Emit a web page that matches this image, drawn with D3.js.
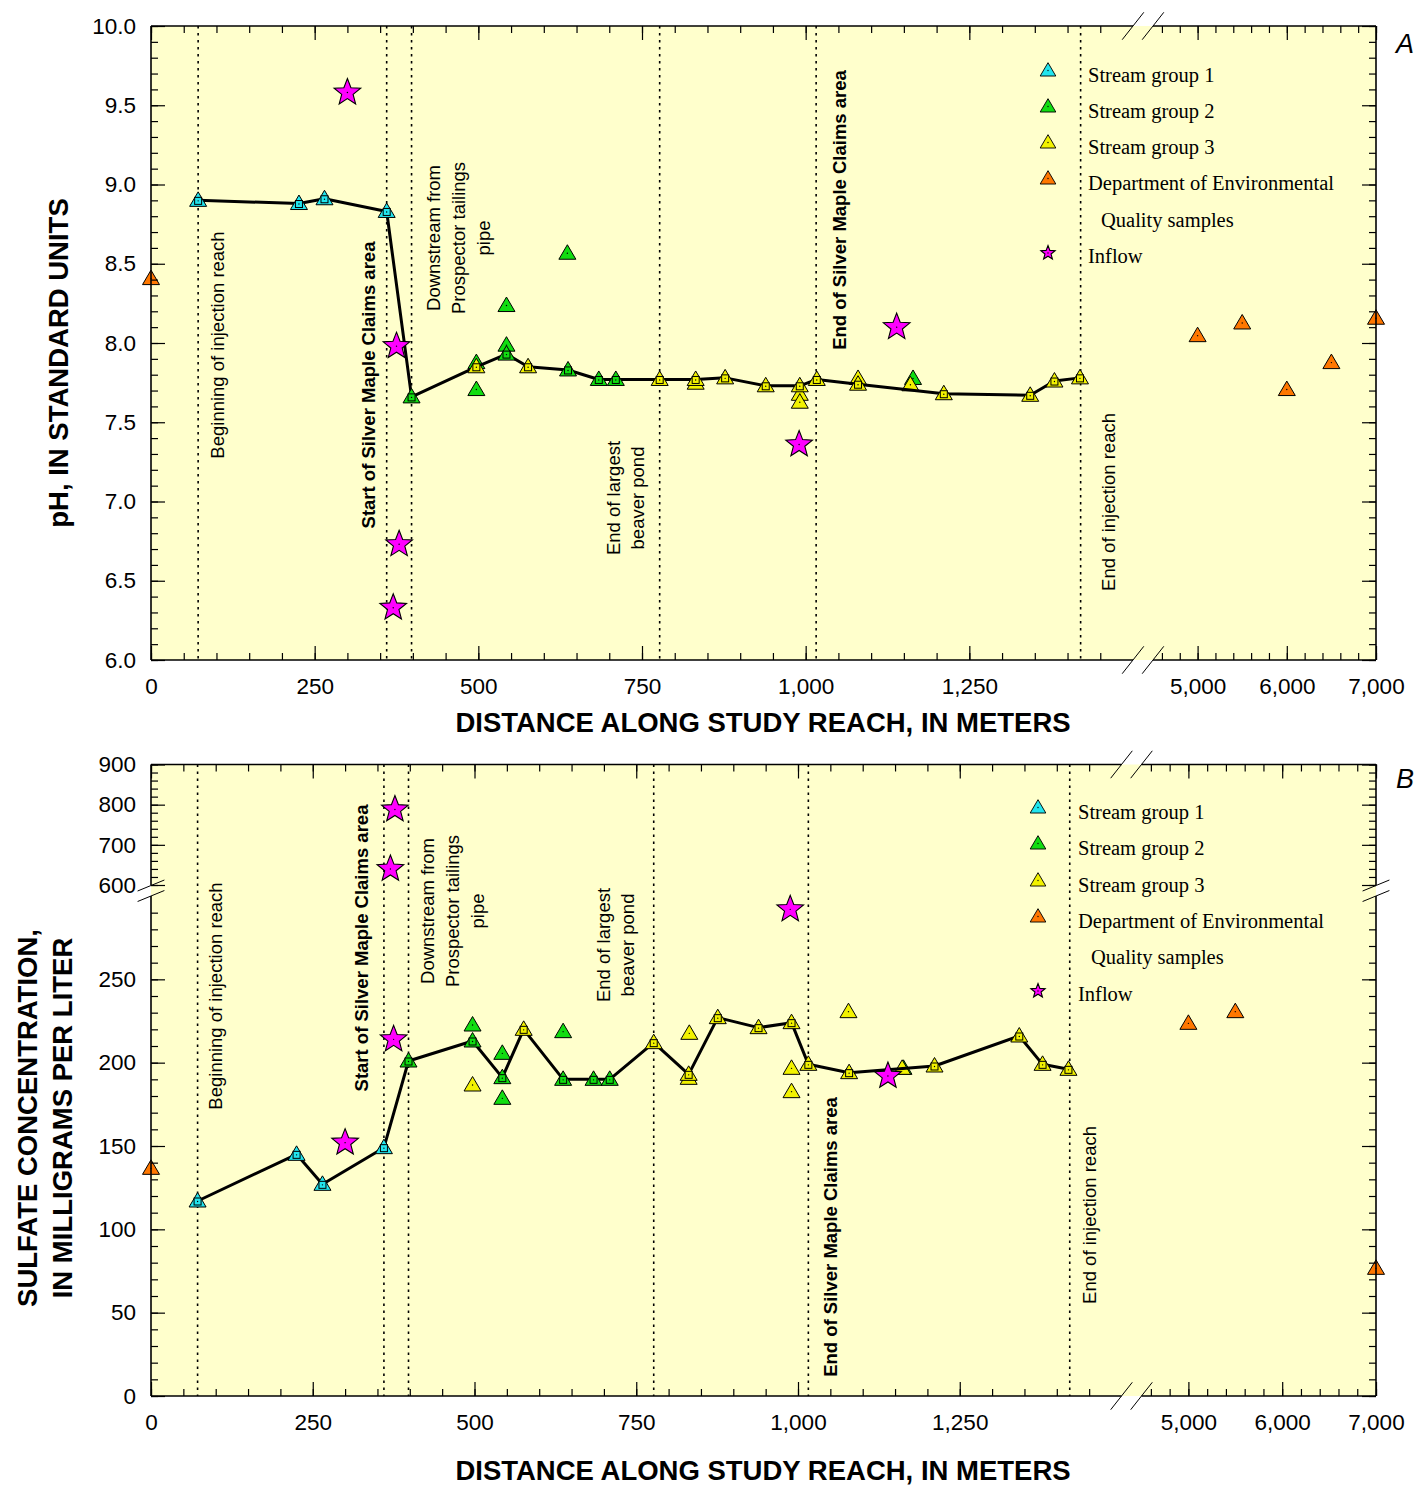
<!DOCTYPE html>
<html>
<head>
<meta charset="utf-8">
<script src="https://cdn.jsdelivr.net/npm/d3@7"></script>
<style>
  body { margin: 0; background: #fff; }
  svg text { font-family: "Liberation Sans", Arial, Helvetica, sans-serif; fill: #000; }
  svg text.legend-label { font-family: "Liberation Serif", "Times New Roman", serif; }
</style>
</head>
<body>
<svg id="fig" width="1419" height="1485"></svg>
<script>
// ---------------- data ----------------
// distances in meters along the study reach

// stream-site tick labels
const xTicksNear = [0, 250, 500, 750, 1000, 1250];
const xTicksFar = [5000, 6000, 7000];
const phTicks = [6.0, 6.5, 7.0, 7.5, 8.0, 8.5, 9.0, 9.5, 10.0];
const so4TicksLow = [0, 50, 100, 150, 200, 250];
const so4TicksHigh = [600, 700, 800, 900];

// reference locations along the reach
const siteDist = [72, 360, 398, 777, 1016, 1420];
const siteText = [
  ["Beginning of injection reach"],
  ["Start of Silver Maple Claims area"],
  ["Downstream from", "Prospector tailings", "pipe"],
  ["End of largest", "beaver pond"],
  ["End of Silver Maple Claims area"],
  ["End of injection reach"]
];
const siteBold = [false, true, false, false, true, false];

// legend
const legendNames = ["Stream group 1", "Stream group 2", "Stream group 3",
  "Department of Environmental", "Quality samples", "Inflow"];

// pH: main-stem profile [distance, pH, stream group]
const phProfile = [
  [72, 8.90, 1], [226, 8.88, 1], [265, 8.91, 1], [360, 8.83, 1],
  [398, 7.66, 2], [497, 7.85, 3], [543, 7.93, 2], [576, 7.85, 3],
  [637, 7.83, 2], [684, 7.77, 2], [710, 7.77, 2], [777, 7.77, 3],
  [832, 7.77, 3], [877, 7.78, 3], [939, 7.73, 3], [991, 7.73, 3],
  [1017, 7.77, 3], [1080, 7.74, 3], [1211, 7.68, 3], [1343, 7.67, 3],
  [1380, 7.76, 3], [1419, 7.78, 3]
];
// pH: other stream samples [distance, pH, stream group]
const phOther = [
  [497, 7.87, 2], [497, 7.70, 2], [543, 7.98, 2], [543, 8.23, 2],
  [636, 8.56, 2], [1164, 7.77, 2],
  [832, 7.74, 3], [991, 7.67, 3], [991, 7.62, 3], [1080, 7.77, 3], [1160, 7.73, 3]
];
// pH: Department of Environmental Quality samples
const phDEQ = [[0, 8.40], [5000, 8.04], [5500, 8.12], [6000, 7.70], [6500, 7.87], [7000, 8.15]];
// pH: inflows
const phInflow = [[300, 9.58], [375, 7.98], [379, 6.73], [370, 6.33], [990, 7.36], [1139, 8.10]];

// sulfate (mg/L): main-stem profile
const so4Profile = [
  [72, 117, 1], [225, 145, 1], [265, 127, 1], [360, 149, 1],
  [398, 201, 2], [497, 213, 2], [543, 191, 2], [576, 220, 3],
  [637, 190, 2], [684, 190, 2], [709, 190, 2], [777, 212, 3],
  [831, 193, 3], [876, 227, 3], [939, 221, 3], [990, 224, 3],
  [1016, 199, 3], [1079, 194, 3], [1211, 198, 3], [1342, 216, 3],
  [1378, 199, 3], [1418, 196, 3]
];
const so4Other = [
  [497, 222, 2], [543, 205, 2], [543, 178, 2], [637, 218, 2], [1163, 196, 2],
  [497, 186, 3], [831, 190, 3], [832, 217, 3], [990, 196, 3], [990, 182, 3],
  [1078, 230, 3], [1161, 196, 3]
];
const so4DEQ = [[0, 136], [5000, 223], [5500, 230], [7000, 76]];
const so4Inflow = [[300, 152], [375, 214], [377, 788], [370, 640], [988, 292], [1139, 192]];

// ---------------- styling ----------------
const groupColor = { 1: "#22e5ee", 2: "#11dd11", 3: "#f2f200" };
const deqColor = "#ff7700";
const inflowColor = "#ff00ff";
const plotBg = "#ffffcc";
const tickFont = 22.5;

const svg = d3.select("#fig");

const triPath = "M0,-8.5L8.5,6L-8.5,6Z";
function starPath(R, r) {
  const pts = [];
  for (let i = 0; i < 10; i++) {
    const a = -Math.PI / 2 + i * Math.PI / 5;
    const rad = i % 2 ? r : R;
    pts.push([rad * Math.cos(a), rad * Math.sin(a)]);
  }
  return "M" + pts.map(p => p[0].toFixed(2) + "," + p[1].toFixed(2)).join("L") + "Z";
}

function drawTriangles(g, data, xf, yf, colorOf, withSquare, scale = 1) {
  const m = g.append("g").selectAll("g").data(data).join("g")
    .attr("transform", d => `translate(${xf(d)},${yf(d)}) scale(${scale})`);
  m.append("path").attr("d", triPath).attr("fill", colorOf)
    .attr("stroke", "#000").attr("stroke-width", 1).attr("stroke-linejoin", "miter");
  if (withSquare) {
    m.append("rect").attr("x", -3.5).attr("y", -3).attr("width", 7).attr("height", 7)
      .attr("fill", colorOf).attr("stroke", "#000").attr("stroke-width", 1);
  }
  m.append("circle").attr("cy", withSquare ? 0.5 : 0).attr("r", 0.7).attr("fill", "#000");
}

function drawStars(g, data, xf, yf, R, r) {
  const m = g.append("g").selectAll("g").data(data).join("g")
    .attr("transform", d => `translate(${xf(d)},${yf(d)})`);
  m.append("path").attr("d", starPath(R, r)).attr("fill", inflowColor)
    .attr("stroke", "#000").attr("stroke-width", 1.1);
  m.append("circle").attr("r", 0.7).attr("fill", "#000");
}

function styleAxis(g, fontSize) {
  g.select(".domain").remove();
  g.selectAll(".tick line").attr("stroke", "#000").attr("stroke-width", 1.2);
  g.selectAll(".tick text").attr("font-size", fontSize).attr("fill", "#000");
  g.attr("font-family", null).attr("font-size", null);
}

// axis ticks for one x segment, both bottom (labelled) and top (mirror)
function xAxisSegment(g, scale, majors, minors, top, bottom, labelled) {
  const fmt = d3.format(",");
  g.append("g").attr("transform", `translate(0,${bottom})`)
    .call(d3.axisBottom(scale).tickValues(minors).tickSize(-7).tickFormat(""))
    .call(a => styleAxis(a, tickFont));
  g.append("g").attr("transform", `translate(0,${bottom})`)
    .call(d3.axisBottom(scale).tickValues(majors).tickSize(-14).tickPadding(18)
      .tickFormat(labelled ? fmt : ""))
    .call(a => styleAxis(a, tickFont));
  g.append("g").attr("transform", `translate(0,${top})`)
    .call(d3.axisTop(scale).tickValues(minors).tickSize(-7).tickFormat(""))
    .call(a => styleAxis(a, tickFont));
  g.append("g").attr("transform", `translate(0,${top})`)
    .call(d3.axisTop(scale).tickValues(majors).tickSize(-14).tickFormat(""))
    .call(a => styleAxis(a, tickFont));
}

function yAxisSegment(g, scale, majors, minors, left, right, fmt) {
  g.append("g").attr("transform", `translate(${left},0)`)
    .call(d3.axisLeft(scale).tickValues(minors).tickSize(-7).tickFormat(""))
    .call(a => styleAxis(a, tickFont));
  g.append("g").attr("transform", `translate(${left},0)`)
    .call(d3.axisLeft(scale).tickValues(majors).tickSize(-14).tickPadding(15).tickFormat(fmt))
    .call(a => styleAxis(a, tickFont));
  g.append("g").attr("transform", `translate(${right},0)`)
    .call(d3.axisRight(scale).tickValues(minors).tickSize(-7).tickFormat(""))
    .call(a => styleAxis(a, tickFont));
  g.append("g").attr("transform", `translate(${right},0)`)
    .call(d3.axisRight(scale).tickValues(majors).tickSize(-14).tickFormat(""))
    .call(a => styleAxis(a, tickFont));
}

function line(g, x1, y1, x2, y2, w) {
  g.append("line").attr("x1", x1).attr("y1", y1).attr("x2", x2).attr("y2", y2)
    .attr("stroke", "#000").attr("stroke-width", w);
}

// ---------------- panel builder ----------------
function panel(cfg) {
  const g = svg.append("g");
  const { left, right, top, bottom, xBreakL, xBreakR } = cfg;

  const xNear = d3.scaleLinear().domain([0, 1500]).range([left, xBreakL]);
  const xFar = d3.scaleLinear().domain([4500, 7000]).range([xBreakR, right]);
  const xs = d => (d <= 3000 ? xNear(d) : xFar(d));
  const ys = cfg.y;

  // plot area
  g.append("rect").attr("x", left).attr("y", top)
    .attr("width", right - left).attr("height", bottom - top).attr("fill", plotBg);

  // reference locations
  const sites = g.append("g");
  siteDist.forEach((d, i) => {
    const px = xs(d);
    sites.append("line").attr("x1", px).attr("x2", px).attr("y1", top).attr("y2", bottom)
      .attr("stroke", "#000").attr("stroke-width", 1.6).attr("stroke-dasharray", "2.5,4.5");
    const lab = cfg.siteLabels[i];
    siteText[i].forEach((t, j) => {
      const cx = px + lab.dx[j];
      sites.append("text")
        .attr("transform", `translate(${cx},${lab.cy}) rotate(-90)`)
        .attr("text-anchor", "middle").attr("dy", "0.35em")
        .attr("font-size", 18.5).attr("font-weight", siteBold[i] ? "bold" : "normal")
        .text(t);
    });
  });

  // other stream samples (drawn beneath the profile)
  const marks = g.append("g");
  drawTriangles(marks, cfg.other, d => xs(d[0]), d => ys(d[1]) - 1, d => groupColor[d[2]], false);

  // profile line and its sites
  marks.append("path").datum(cfg.profile)
    .attr("d", d3.line().x(d => xs(d[0])).y(d => ys(d[1])))
    .attr("fill", "none").attr("stroke", "#000").attr("stroke-width", 3)
    .attr("stroke-linejoin", "round");
  drawTriangles(marks, cfg.profile, d => xs(d[0]), d => ys(d[1]), d => groupColor[d[2]], true);

  // DEQ samples and inflows
  drawTriangles(marks, cfg.deq, d => xs(d[0]), d => ys(d[1]) - 1, () => deqColor, false);
  drawStars(marks, cfg.inflow, d => xs(d[0]), d => ys(d[1]), 14, 6);

  // axes
  const ax = g.append("g");
  xAxisSegment(ax, xNear, xTicksNear, d3.range(0, 1500, 50), top, bottom, true);
  xAxisSegment(ax, xFar, xTicksFar, d3.range(4600, 7001, 200), top, bottom, true);
  cfg.yAxes(ax);

  // frame with breaks
  const fr = g.append("g");
  cfg.yBands.forEach(([y1, y2]) => {
    line(fr, left, y1, left, y2, 1.6);
    line(fr, right, y1, right, y2, 1.6);
  });
  [top, bottom].forEach(yy => {
    line(fr, left, yy, xBreakL, yy, 1.6);
    line(fr, xBreakR, yy, right, yy, 1.6);
    [xBreakL, xBreakR].forEach(cx => line(fr, cx - 10.8, yy + 13.7, cx + 10.8, yy - 13.7, 1));
  });
  (cfg.yBreaks || []).forEach(cy => {
    [left, right].forEach(cx => line(fr, cx - 13.4, cy + 5.5, cx + 13.4, cy - 5.5, 1));
  });

  // legend
  const lg = g.append("g");
  const L = cfg.legend;
  const legendSym = [groupColor[1], groupColor[2], groupColor[3], deqColor, null, "star"];
  legendNames.forEach((name, i) => {
    const ty = L.rows[i];
    lg.append("text").attr("class", "legend-label")
      .attr("x", i === 4 ? L.textX + 13 : L.textX).attr("y", ty)
      .attr("dy", "0.35em").attr("font-size", 20.5).text(name);
    const s = legendSym[i];
    if (s === "star") {
      drawStars(lg, [0], () => L.symX, () => ty - 3, 7.5, 3.2);
    } else if (s) {
      drawTriangles(lg, [0], () => L.symX, () => ty - 4.5, () => s, false, 0.92);
    }
  });

  // panel letter
  g.append("text").attr("x", 1405).attr("y", cfg.letterY).attr("text-anchor", "middle")
    .attr("font-size", 27).attr("font-style", "italic").text(cfg.letter);

  // axis titles
  g.append("text").attr("x", 763).attr("y", cfg.xTitleY).attr("text-anchor", "middle")
    .attr("font-size", 27.5).attr("font-weight", "bold")
    .text("DISTANCE ALONG STUDY REACH, IN METERS");
  cfg.yTitle.forEach(t => {
    g.append("text").attr("transform", `translate(${t.x},${t.cy}) rotate(-90)`)
      .attr("text-anchor", "middle").attr("font-size", 27.5).attr("font-weight", "bold")
      .text(t.text);
  });
}

// ---------------- panel A: pH ----------------
const yPH = d3.scaleLinear().domain([6, 10]).range([660, 26]);
panel({
  left: 151, right: 1376, top: 26, bottom: 660, xBreakL: 1133, xBreakR: 1153,
  y: v => yPH(v),
  yBands: [[26, 660]],
  yAxes: ax => yAxisSegment(ax, yPH, phTicks, d3.range(60, 101).map(v => v / 10), 151, 1376, d3.format(".1f")),
  profile: phProfile, other: phOther, deq: phDEQ, inflow: phInflow,
  siteLabels: [
    { dx: [19], cy: 345 },
    { dx: [-18], cy: 385 },
    { dx: [22, 46.5, 72], cy: 238 },
    { dx: [-46, -22], cy: 498 },
    { dx: [23], cy: 210 },
    { dx: [28], cy: 502 }
  ],
  legend: { symX: 1048, textX: 1088, rows: [75, 111, 147, 183, 220, 256] },
  letter: "A", letterY: 53,
  xTitleY: 732,
  yTitle: [{ x: 68, cy: 363, text: "pH, IN STANDARD UNITS" }]
});

// ---------------- panel B: sulfate (broken y axis) ----------------
const ySO4Low = d3.scaleLinear().domain([0, 300]).range([1396, 896]);
const ySO4High = d3.scaleLinear().domain([600, 900]).range([885, 764.5]);
panel({
  left: 151, right: 1376, top: 764.5, bottom: 1396, xBreakL: 1121.5, xBreakR: 1141.5,
  y: v => (v <= 450 ? ySO4Low(v) : ySO4High(v)),
  yBands: [[764.5, 885], [896, 1396]],
  yBreaks: [885.5, 896],
  yAxes: ax => {
    yAxisSegment(ax, ySO4Low, so4TicksLow, d3.range(0, 300, 10), 151, 1376, d3.format("d"));
    yAxisSegment(ax, ySO4High, so4TicksHigh, d3.range(600, 901, 20), 151, 1376, d3.format("d"));
  },
  profile: so4Profile, other: so4Other, deq: so4DEQ, inflow: so4Inflow,
  siteLabels: [
    { dx: [18], cy: 996 },
    { dx: [-22.5], cy: 948 },
    { dx: [19.5, 44.5, 69.5], cy: 911 },
    { dx: [-50, -26], cy: 945 },
    { dx: [22], cy: 1237 },
    { dx: [20], cy: 1215 }
  ],
  legend: { symX: 1038, textX: 1078, rows: [812, 848, 885, 921, 957, 994] },
  letter: "B", letterY: 788,
  xTitleY: 1480,
  yTitle: [
    { x: 37, cy: 1118, text: "SULFATE CONCENTRATION," },
    { x: 72, cy: 1118, text: "IN MILLIGRAMS PER LITER" }
  ]
});
</script>
</body>
</html>
